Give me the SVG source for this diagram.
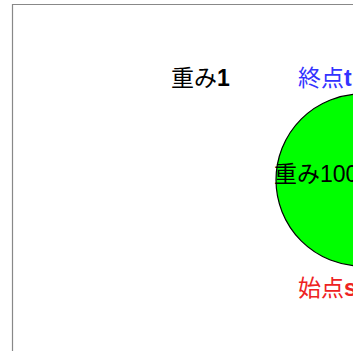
<svg xmlns="http://www.w3.org/2000/svg" width="353" height="351" viewBox="0 0 353 351">
<style>
.t{font-family:"Liberation Sans","Noto Sans CJK JP",sans-serif;font-size:23px;}
.b{font-weight:bold;}
</style>
<rect width="353" height="351" fill="#ffffff"/>
<g id="frame"><path d="M12.5,351 V4.5 H353" fill="none" stroke="#888888" stroke-width="1.2"/></g>
<g id="connectors"></g>
<g id="node-main">
<circle cx="362" cy="180" r="86" fill="#00ff00" stroke="#000000" stroke-width="1.2"/>
<text class="t" x="274" y="182" fill="#000000">重み100</text>
</g>
<g id="label-w1"><text class="t" x="171" y="86" fill="#000000">重み<tspan class="b">1</tspan></text></g>
<g id="label-t"><text class="t" x="298" y="86" fill="#3333ff">終点<tspan class="b">t</tspan></text></g>
<g id="label-s"><text class="t" x="298" y="296" fill="#ee2222">始点<tspan class="b">s</tspan></text></g>
</svg>
